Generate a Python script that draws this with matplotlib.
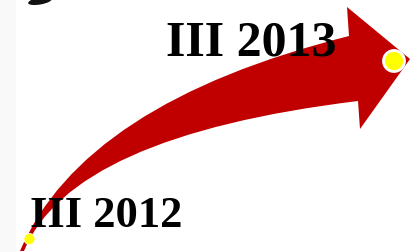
import matplotlib.pyplot as plt
from matplotlib.path import Path
from matplotlib.patches import PathPatch, Circle, Ellipse, Rectangle

# labels and where they sit (pixel coords, y down)
labels = ['III 2012', 'III 2013']
label_x = [30, 166]
label_base = [227, 55]
label_size = [32, 36]

# arrow geometry
tail = [(20, 252), (24, 252)]
upper_ctrl = (83, 104)
lower_ctrl = (71, 137)
head_base = [(349, 37), (358, 102)]
head = [(347, 8), (410, 60), (360, 130)]

# the two end markers
dot_xy = [(29.5, 240), (394, 62)]
dot_r = [5.5, 10.5]

red = '#c00000'

fig = plt.figure(figsize=(4.14, 2.53), dpi=100)
ax = fig.add_axes([0, 0, 1, 1])
ax.set_xlim(0, 414)
ax.set_ylim(253, 0)
ax.axis('off')

ax.add_patch(Rectangle((0, 0), 16, 253, color='#f9f9f9', lw=0))
ax.add_patch(Ellipse((40, 2), 24, 7, angle=-10, color='#111111', lw=0))

verts = [tail[0], upper_ctrl, head_base[0],
         head[0], head[1], head[2], head_base[1],
         lower_ctrl, tail[1], tail[0]]
codes = [Path.MOVETO, Path.CURVE3, Path.CURVE3,
         Path.LINETO, Path.LINETO, Path.LINETO, Path.LINETO,
         Path.CURVE3, Path.CURVE3, Path.CLOSEPOLY]
ax.add_patch(PathPatch(Path(verts, codes), facecolor=red, edgecolor='none'))

ax.add_patch(Circle(dot_xy[0], dot_r[0], facecolor='yellow', edgecolor='white', lw=0.6))
ax.add_patch(Circle(dot_xy[1], dot_r[1], facecolor='yellow', edgecolor='white', lw=2))

for t, x, y, s in zip(labels, label_x, label_base, label_size):
    ax.text(x, y, t, fontsize=s, fontweight='bold', family='Liberation Serif',
            ha='left', va='baseline', color='black')

fig.savefig('out.png', dpi=100)
